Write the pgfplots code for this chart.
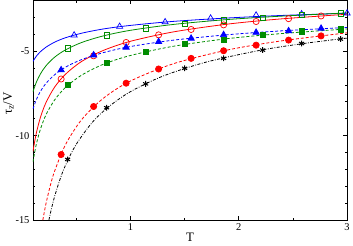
\documentclass[border=0pt]{standalone}
\usepackage{fontspec}
\setmainfont{Liberation Serif}
\usepackage{pgfplots}
\pgfplotsset{compat=1.18}
\definecolor{gblue}{rgb}{0,0,1}
\definecolor{ggreen}{rgb}{0,0.55,0}
\definecolor{gred}{rgb}{1,0,0}
\begin{document}
\begin{tikzpicture}
\begin{axis}[
  scale only axis,
  width=316pt, height=221pt,
  xmin=0.1, xmax=3, ymin=-15, ymax=-2,
  xtick={1,2,3}, ytick={-15,-10,-5},
  minor xtick={0.5,1.5,2.5},
  minor ytick={-14,-13,-12,-11,-9,-8,-7,-6,-4,-3},
  tick align=inside, tickpos=both,
  major tick length=4pt, minor tick length=2.5pt,
  every tick/.style={black, line width=0.6pt},
  axis line style={line width=0.8pt},
  /pgf/number format/assume math mode=true,
  tick label style={font=\fontsize{10.5}{12}\selectfont},
  xlabel={T}, ylabel={τ\textsubscript{z}/V},
  label style={font=\fontsize{13}{15}\selectfont},
  xlabel style={at={(axis description cs:0.5,-0.08)}, anchor=center},
  ylabel style={at={(axis description cs:-0.078,0.53)}, anchor=center},
  clip mode=individual,
  every axis plot/.append style={line width=0.8pt},
]
% fitted lines
\addplot[gblue, smooth, mark=none] coordinates {
(0.1,-5.61)(0.13,-5.31)(0.17,-5.03)(0.22,-4.77)(0.3,-4.47)(0.4,-4.21)(0.55,-3.94)(0.75,-3.69)(1,-3.48)(1.4,-3.24)(1.9,-3.04)(2.4,-2.89)(3,-2.76)};
\addplot[ggreen, smooth, mark=none] coordinates {
(0.1,-7.41)(0.13,-6.86)(0.17,-6.34)(0.22,-5.87)(0.3,-5.36)(0.4,-4.93)(0.55,-4.49)(0.75,-4.10)(1,-3.77)(1.4,-3.42)(1.9,-3.13)(2.4,-2.93)(3,-2.74)};
\addplot[gred, smooth, mark=none] coordinates {
(0.1,-10.93)(0.13,-9.88)(0.17,-8.90)(0.22,-8.05)(0.3,-7.13)(0.4,-6.37)(0.55,-5.61)(0.75,-4.96)(1,-4.42)(1.4,-3.86)(1.9,-3.40)(2.4,-3.09)(3,-2.82)};
\addplot[gblue, smooth, mark=none, dash pattern=on 3pt off 2pt] coordinates {
(0.1,-8.42)(0.13,-7.89)(0.17,-7.37)(0.22,-6.91)(0.3,-6.40)(0.4,-5.95)(0.55,-5.50)(0.75,-5.09)(1,-4.73)(1.4,-4.35)(1.9,-4.03)(2.4,-3.80)(3,-3.60)};
\addplot[ggreen, smooth, mark=none, dash pattern=on 3pt off 2pt] coordinates {
(0.1,-11.55)(0.13,-10.54)(0.17,-9.60)(0.22,-8.77)(0.3,-7.89)(0.4,-7.15)(0.55,-6.42)(0.75,-5.78)(1,-5.26)(1.4,-4.71)(1.9,-4.26)(2.4,-3.96)(3,-3.69)};
\addplot[gred, smooth, mark=none, dash pattern=on 3pt off 2pt] coordinates {
(0.191,-15.0)(0.22,-14.03)(0.26,-12.96)(0.3,-12.10)(0.4,-10.54)(0.55,-9.05)(0.75,-7.79)(1,-6.77)(1.4,-5.74)(1.9,-4.93)(2.4,-4.39)(3,-3.92)};
\addplot[black, smooth, mark=none, dash pattern=on 3pt off 1.5pt on 0.8pt off 1.5pt] coordinates {
(0.247,-15.0)(0.27,-14.34)(0.3,-13.60)(0.35,-12.58)(0.4,-11.76)(0.5,-10.51)(0.65,-9.20)(0.8,-8.29)(1,-7.40)(1.3,-6.48)(1.7,-5.65)(2.2,-4.95)(2.6,-4.55)(3,-4.23)};
% markers
\addplot[gblue, only marks, mark=triangle, mark size=3.6pt, mark options={line width=0.7pt}] coordinates {
(0.48,-4.06)(0.90,-3.55)(1.32,-3.28)(1.74,-3.06)(2.16,-2.88)(2.58,-2.81)(3.0,-2.76)};
\addplot[ggreen, only marks, mark=square, mark size=2.7pt, mark options={line width=0.7pt}] coordinates {
(0.42,-4.84)(0.78,-4.06)(1.14,-3.66)(1.50,-3.37)(1.86,-3.18)(2.22,-3.02)(2.58,-2.86)(2.94,-2.76)};
\addplot[gred, only marks, mark=o, mark size=3.1pt, mark options={line width=0.7pt}] coordinates {
(0.36,-6.65)(0.66,-5.28)(0.96,-4.49)(1.26,-4.04)(1.56,-3.72)(1.86,-3.45)(2.16,-3.25)(2.46,-3.08)(2.76,-2.92)};
\addplot[gblue, only marks, mark=triangle*, mark size=3.6pt] coordinates {
(0.36,-6.12)(0.66,-5.24)(0.96,-4.78)(1.26,-4.45)(1.56,-4.25)(1.86,-4.04)(2.16,-3.90)(2.46,-3.81)(2.76,-3.66)};
\addplot[ggreen, only marks, mark=square*, mark size=2.7pt] coordinates {
(0.42,-7.00)(0.78,-5.71)(1.14,-5.04)(1.50,-4.59)(1.86,-4.34)(2.22,-4.04)(2.58,-3.84)(2.94,-3.71)};
\addplot[gred, only marks, mark=*, mark size=3.1pt] coordinates {
(0.36,-11.12)(0.66,-8.28)(0.96,-6.90)(1.26,-6.06)(1.56,-5.43)(1.86,-4.98)(2.16,-4.65)(2.46,-4.35)(2.76,-4.10)};
\addplot[black, only marks, mark=asterisk, mark size=2.9pt, mark options={line width=1pt}] coordinates {
(0.42,-11.41)(0.78,-8.35)(1.14,-6.94)(1.50,-6.02)(1.86,-5.43)(2.22,-4.94)(2.58,-4.55)(2.94,-4.29)};
\end{axis}
\end{tikzpicture}
\end{document}
